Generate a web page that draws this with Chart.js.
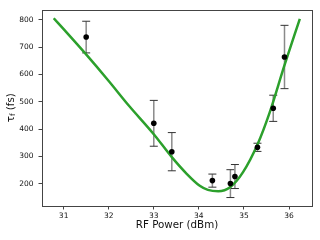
<!DOCTYPE html>
<html>
<head>
<meta charset="utf-8">
<script src="https://cdn.jsdelivr.net/npm/chart.js@4/dist/chart.umd.min.js"></script>
<style>
  html, body { margin: 0; padding: 0; background: #fff; }
  canvas { display: block; }
</style>
</head>
<body>
<canvas id="chart" width="320" height="240"></canvas>
<script>
// measured points (RF power in dBm, tau in fs, symmetric error)
const powers = [31.5, 33.0, 33.4, 34.3, 34.7, 34.8, 35.3, 35.65, 35.9];
const tau = [737, 421, 317, 211, 200, 226, 333, 476, 664];
const tauErr = [58, 84, 70, 24, 51, 44, 15, 48, 116];

// fitted curve
const fitX = [30.78, 31.0, 31.48, 32.0, 32.44, 33.0, 33.4, 33.73, 34.02, 34.2, 34.43, 34.7, 34.98, 35.31, 35.57, 35.9, 36.24];
const fitY = [806, 766, 677, 576, 487, 381, 297, 236, 192, 177, 172, 188, 242, 347, 460, 634, 804];

const xTicks = [31, 32, 33, 34, 35, 36];
const yTicks = [200, 300, 400, 500, 600, 700, 800];

const FONT = 'DejaVu Sans';

const errorBars = {
    id: 'errorBars',
    beforeDatasetsDraw(chart) {
        const { ctx, scales: { x, y } } = chart;
        ctx.save();
        powers.forEach((p, i) => {
            const px = x.getPixelForValue(p);
            const top = y.getPixelForValue(tau[i] + tauErr[i]);
            const bot = y.getPixelForValue(tau[i] - tauErr[i]);
            ctx.strokeStyle = '#8a8a8a';
            ctx.lineWidth = 1.5;
            ctx.beginPath();
            ctx.moveTo(px, top);
            ctx.lineTo(px, bot);
            ctx.stroke();
            ctx.strokeStyle = '#333';
            ctx.lineWidth = 1;
            ctx.beginPath();
            ctx.moveTo(px - 4, top);
            ctx.lineTo(px + 4, top);
            ctx.moveTo(px - 4, bot);
            ctx.lineTo(px + 4, bot);
            ctx.stroke();
        });
        ctx.restore();
    }
};

const frame = {
    id: 'frame',
    afterDraw(chart) {
        const { ctx, chartArea: a } = chart;
        ctx.save();
        ctx.strokeStyle = '#444';
        ctx.lineWidth = 1;
        const l = Math.round(a.left) + 0.5, t = Math.round(a.top) + 0.5;
        const r = Math.round(a.right) + 0.5, b = Math.round(a.bottom) + 0.5;
        ctx.strokeRect(l, t, r - l, b - t);

        // y label with subscript
        ctx.fillStyle = '#111';
        ctx.textBaseline = 'middle';
        ctx.font = '10.3px ' + FONT;
        const w1 = ctx.measureText('τ').width;
        const w3 = ctx.measureText(' (fs)').width;
        ctx.font = '7.2px ' + FONT;
        const w2 = ctx.measureText('f').width;
        const total = w1 + w2 + w3;
        ctx.translate(11, (a.top + a.bottom) / 2);
        ctx.rotate(-Math.PI / 2);
        let cx = -total / 2;
        ctx.font = '10.3px ' + FONT;
        ctx.fillText('τ', cx, 0);
        cx += w1;
        ctx.font = '7.2px ' + FONT;
        ctx.fillText('f', cx, 2.5);
        cx += w2;
        ctx.font = '10.3px ' + FONT;
        ctx.fillText(' (fs)', cx, 0);
        ctx.restore();
    }
};

new Chart(document.getElementById('chart'), {
    type: 'scatter',
    data: {
        datasets: [
            {
                label: 'data',
                data: powers.map((p, i) => ({ x: p, y: tau[i] })),
                pointRadius: 2.8,
                pointBackgroundColor: '#000',
                pointBorderWidth: 0,
                showLine: false
            },
            {
                label: 'fit',
                data: fitX.map((v, i) => ({ x: v, y: fitY[i] })),
                showLine: true,
                borderColor: '#2ca02c',
                borderWidth: 2.5,
                pointRadius: 0,
                cubicInterpolationMode: 'monotone',
                fill: false
            }
        ]
    },
    options: {
        responsive: false,
        devicePixelRatio: 1,
        animation: false,
        layout: { padding: { left: 0, top: 7, right: 8, bottom: 0 } },
        plugins: {
            legend: { display: false },
            tooltip: { enabled: false }
        },
        scales: {
            x: {
                type: 'linear',
                min: 30.52,
                max: 36.51,
                afterBuildTicks: scale => { scale.ticks = xTicks.map(v => ({ value: v })); },
                afterFit: scale => { scale.height = 34; },
                grid: { drawOnChartArea: false, drawTicks: true, tickLength: 3.5, color: '#444' },
                border: { display: false },
                ticks: { color: '#111', font: { family: FONT, size: 7.5 }, padding: 2, maxRotation: 0 },
                title: {
                    display: true,
                    text: 'RF Power (dBm)',
                    color: '#111',
                    font: { family: FONT, size: 10.3 },
                    padding: { top: 2, bottom: 8 }
                }
            },
            y: {
                min: 118,
                max: 838,
                afterBuildTicks: scale => { scale.ticks = yTicks.map(v => ({ value: v })); },
                afterFit: scale => { scale.width = 42; },
                grid: { drawOnChartArea: false, drawTicks: true, tickLength: 3.5, color: '#444' },
                border: { display: false },
                ticks: { color: '#111', font: { family: FONT, size: 7.5 }, padding: 5 }
            }
        }
    },
    plugins: [errorBars, frame]
});
</script>
</body>
</html>
